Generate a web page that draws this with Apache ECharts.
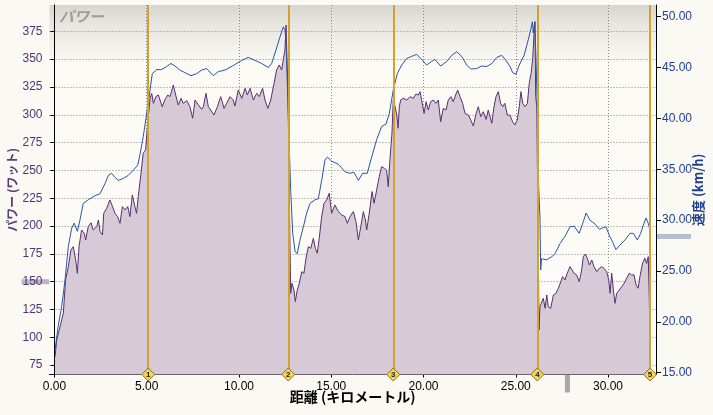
<!DOCTYPE html>
<html><head><meta charset="utf-8">
<script src="https://cdn.jsdelivr.net/npm/echarts@6/dist/echarts.min.js"></script>
<style>html,body{margin:0;padding:0;background:#fbf9f3;}#c{width:713px;height:415px;}</style>
</head><body><div id="c"></div>
<script>
// ---- tick labels / axes ----
const powerTicks = [75,100,125,150,175,200,225,250,275,300,325,350,375];
const speedTicks = [15,20,25,30,35,40,45,50];
const distTicks = [0,5,10,15,20,25,30];
const powerRange = [66.6, 398.7];
const speedRange = [14.82, 51.15];
const distRange = [-0.27, 32.6];
// ---- laps ----
const lapDist = [5.08, 12.67, 18.36, 26.17, 32.28];
const lapLabels = ['1','2','3','4','5'];
// ---- cursor markers ----
const cursorPower = 150, cursorSpeed = 28.4, cursorDist = 27.8;
// ---- speed (km/h) ----
const speedDist = [0.03,0.2,0.39,0.57,0.75,0.93,1.07,1.24,1.38,1.56,1.83,2.2,2.47,2.74,2.92,3.1,3.28,3.46,3.73,4.0,4.27,4.51,4.63,4.81,5.0,5.18,5.3,5.54,5.81,6.08,6.31,6.53,6.8,7.07,7.4,7.7,7.98,8.25,8.6,8.88,9.24,9.69,10.15,10.5,10.87,11.23,11.59,11.77,12.0,12.22,12.4,12.49,12.55,12.62,12.73,12.8,12.91,13.04,13.16,13.3,13.49,13.67,13.85,14.12,14.3,14.48,14.66,14.79,15.02,15.38,15.75,16.0,16.23,16.47,16.7,16.95,17.19,17.46,17.73,17.97,18.15,18.36,18.58,18.82,19.09,19.36,19.63,19.9,20.17,20.44,20.62,20.93,21.26,21.53,21.8,22.07,22.34,22.56,22.88,23.15,23.43,23.7,23.97,24.24,24.47,24.69,24.83,25.01,25.19,25.45,25.63,25.81,25.9,25.95,26.03,26.1,26.17,26.24,26.31,26.35,26.4,26.68,26.95,27.13,27.4,27.67,27.94,28.16,28.44,28.66,28.81,29.02,29.3,29.53,29.89,30.07,30.26,30.43,30.65,30.92,31.19,31.37,31.59,31.77,31.91,32.06,32.18,32.27];
const speedVals = [17.2,19.6,21.5,24.1,27.4,29.2,29.7,28.9,30.0,31.65,32.0,32.4,32.6,33.6,34.4,34.6,34.2,33.9,34.1,34.4,34.9,35.4,36.4,38.2,40.5,42.8,44.4,44.8,44.8,45.1,45.4,45.15,44.75,44.5,44.2,44.4,44.75,44.9,44.2,44.6,44.75,45.2,45.7,46.0,45.7,45.4,45.0,45.4,46.7,48.0,49.0,48.7,47.4,43.4,36.9,33.0,28.7,26.9,26.7,28.0,29.35,30.7,31.65,32.0,32.1,33.9,35.9,36.2,35.8,35.5,34.75,34.6,34.7,33.9,34.6,34.6,36.2,37.9,39.2,39.45,40.5,42.8,44.4,45.25,45.9,46.1,46.3,45.8,45.25,45.6,45.8,45.15,45.6,46.2,46.55,46.1,45.25,44.85,44.9,45.15,45.1,45.4,46.0,46.2,45.7,45.1,44.5,44.35,45.25,46.2,47.4,48.7,49.5,48.4,49.5,45.7,40.8,33.3,30.3,25.1,26.2,26.1,26.4,26.7,27.7,28.4,29.35,29.4,28.7,29.85,30.7,30.0,29.6,29.1,29.35,28.5,27.8,27.1,27.55,28.05,28.7,28.7,28.05,28.7,29.5,30.2,29.7,29.0];
// ---- power (W) ----
const powerDist = [0.03,0.12,0.3,0.48,0.6,0.75,0.89,1.02,1.15,1.24,1.33,1.47,1.62,1.69,1.83,1.98,2.1,2.29,2.38,2.47,2.6,2.67,2.83,3.0,3.15,3.28,3.42,3.55,3.68,3.82,3.97,4.09,4.22,4.36,4.45,4.54,4.69,4.81,4.94,5.05,5.18,5.27,5.36,5.49,5.63,5.72,5.84,5.99,6.14,6.26,6.44,6.57,6.71,6.86,6.98,7.17,7.34,7.49,7.62,7.8,7.89,7.98,8.07,8.21,8.34,8.47,8.64,8.83,9.01,9.19,9.33,9.51,9.69,9.78,9.96,10.15,10.33,10.45,10.6,10.78,10.96,11.1,11.28,11.41,11.56,11.72,11.9,12.04,12.18,12.31,12.4,12.49,12.55,12.6,12.66,12.73,12.8,12.87,12.98,13.05,13.16,13.27,13.4,13.52,13.63,13.76,13.89,14.03,14.14,14.24,14.35,14.48,14.61,14.75,14.89,15.02,15.2,15.38,15.57,15.75,15.87,16.02,16.2,16.34,16.47,16.6,16.74,16.85,16.92,17.06,17.21,17.32,17.46,17.6,17.73,17.88,18.0,18.09,18.18,18.29,18.36,18.46,18.55,18.62,18.69,18.76,18.9,19.09,19.27,19.45,19.59,19.72,19.81,19.9,20.03,20.14,20.26,20.39,20.53,20.68,20.8,20.93,21.07,21.22,21.34,21.49,21.61,21.74,21.85,21.98,22.12,22.25,22.43,22.56,22.7,22.85,22.97,23.1,23.24,23.39,23.51,23.7,23.82,23.93,24.05,24.18,24.29,24.41,24.54,24.68,24.83,24.95,25.08,25.19,25.28,25.38,25.5,25.63,25.73,25.83,25.92,25.99,26.04,26.08,26.14,26.21,26.26,26.31,26.4,26.49,26.59,26.68,26.76,26.89,27.04,27.18,27.31,27.44,27.54,27.67,27.79,27.94,28.03,28.16,28.3,28.44,28.57,28.66,28.77,28.88,28.99,29.12,29.24,29.39,29.53,29.66,29.78,29.93,30.04,30.11,30.2,30.29,30.38,30.47,30.61,30.74,30.87,31.01,31.15,31.28,31.41,31.52,31.63,31.73,31.87,32.0,32.09,32.18,32.23,32.27];
const powerVals = [82.6,97.6,109.6,121.6,151.6,163.5,178.5,181.5,169.5,157.6,181.5,196.5,193.5,187.5,199.5,203,196.5,199.5,205.5,195,192,211.5,216,223.5,217.5,211.5,208.5,202.5,217.5,214.5,217.5,208.5,228,217.5,211.5,226.5,247.5,265.5,268.5,292.4,314.8,319.3,310.3,316.3,317.8,313.3,307.3,313.9,317.8,316.3,326.8,317.8,308.8,314.8,310.3,312.7,307.3,296.9,313.3,308.8,310.3,305,307.3,319.3,307.3,304.3,299.8,307.3,316.3,305.8,310.3,316.3,313.3,307.9,322.3,314.8,323.8,317.8,323.8,313.3,319.3,316.3,323.8,313.3,305.8,313.3,328.3,340.3,344.8,340.3,349.3,358.2,380.7,382.2,316.3,223.5,139.6,148.6,142.6,132.1,142.6,148.6,159.0,157.6,171.1,181.5,180.0,189.0,180.0,175.6,189.0,208.5,220.5,223.5,229.5,211.5,219,213,210,208.5,202.5,208.5,213,204,187.5,199.5,213,205.5,196.5,211.5,231,220.5,232.4,244.4,253.4,251.9,250.4,235.4,259.4,283.4,313.3,307.3,299.8,287.9,307.3,313.3,314.8,313.3,316.3,314.8,318.7,317.8,320.8,313.3,301.3,311.8,304.3,311.8,313.3,310.3,313.3,293.8,305.8,304.3,313.3,316.3,311.8,317.8,322.3,316.3,310.3,301.3,299.8,295.3,289.9,301.3,307.3,298.3,302.8,295.9,304.3,292.4,307.3,316.3,320.8,310.3,307.3,310.3,299.8,299.8,293.8,290.9,295.3,307.3,320.8,310.3,307.3,310.3,328.3,337.3,350.8,373.3,383.7,316.3,307.3,193.5,106.6,127.6,126.1,135.1,126.1,138.1,127.6,126.1,138.1,139.6,144.1,150.0,154.5,151.6,157.6,163.5,165.0,157.6,156.1,150.0,160.5,172.5,174.9,171.1,165.0,169.5,163.5,159.0,162.0,163.5,162.0,159.0,151.6,139.6,157.6,142.6,130.6,139.6,142.6,145.5,148.6,153.1,157.6,156.1,156.1,147.1,144.1,154.5,166.5,171.1,166.5,172.5,139.6,106.6];

const zip = (a,b) => a.map((v,i)=>[v,b[i]]);
const labelFont = "'Liberation Sans Narrow','Arial Narrow',sans-serif";
const cjkFont = "'Noto Sans CJK JP',sans-serif";
const chart = echarts.init(document.getElementById('c'), null, {renderer:'canvas'});
const gridDash = [1,2];
chart.setOption({
  animation:false,
  backgroundColor:'#fbf9f3',
  title:{text:'パワー', left:54, top:4, textStyle:{color:'#9c9c9c', fontStyle:'italic', fontWeight:'bold', fontSize:15, fontFamily:cjkFont}},
  grid:{left:49.5, right:57, top:5, bottom:40.5, show:true, borderWidth:0, outerBoundsMode:'none',
    backgroundColor:new echarts.graphic.LinearGradient(0,0,0,1,[
      {offset:0,color:'#d9d5d0'},{offset:0.05,color:'#e8e5e0'},{offset:0.16,color:'#fbfaf5'},{offset:1,color:'#fdfcf8'}])},
  xAxis:{type:'value', min:distRange[0], max:distRange[1],
    name:'距離 (キロメートル)', nameLocation:'middle', nameGap:15, nameMoveOverlap:false,
    nameTextStyle:{color:'#000', fontWeight:'bold', fontSize:14, fontFamily:cjkFont, verticalAlign:'top'},
    axisLine:{show:true, onZero:false, lineStyle:{color:'#000', width:1}},
    axisTick:{show:true, length:3, customValues:distTicks, lineStyle:{color:'#000'}},
    axisLabel:{customValues:distTicks, margin:6, color:'#000', fontSize:12, fontFamily:labelFont, formatter:v=>v.toFixed(2)},
    splitLine:{show:true, lineStyle:{color:'#888', type:gridDash, width:1}}},
  yAxis:[
    {type:'value', min:powerRange[0], max:powerRange[1], position:'left',
      name:'パワー (ワット)', nameLocation:'middle', nameGap:31, nameRotate:90, nameMoveOverlap:false,
      nameTextStyle:{color:'#5b3a7c', fontWeight:'bold', fontSize:12, fontFamily:cjkFont},
      axisLine:{show:true, lineStyle:{color:'#000', width:1}},
      axisTick:{show:true, length:4, customValues:powerTicks, lineStyle:{color:'#000'}},
      axisLabel:{customValues:powerTicks, margin:7, color:'#4b3576', fontSize:12, fontFamily:labelFont},
      splitLine:{show:true, lineStyle:{color:'#888', type:gridDash, width:1}}},
    {type:'value', min:speedRange[0], max:speedRange[1], position:'right',
      name:'速度 (km/h)', nameLocation:'middle', nameGap:36, nameRotate:90, nameMoveOverlap:false,
      nameTextStyle:{color:'#1f3f8f', fontWeight:'bold', fontSize:13, fontFamily:cjkFont},
      axisLine:{show:true, lineStyle:{color:'#000', width:1}},
      axisTick:{show:true, length:5, customValues:speedTicks, lineStyle:{color:'#000'}},
      axisLabel:{customValues:speedTicks, margin:6, color:'#1f3f8f', fontSize:12, fontFamily:labelFont, formatter:v=>v.toFixed(2)},
      splitLine:{show:false}}
  ],
  series:[
    {name:'power', type:'line', yAxisIndex:0, data:zip(powerDist,powerVals), showSymbol:false, symbol:'none',
      lineStyle:{color:'#5a2f70', width:1}, areaStyle:{color:'#d5cad5', opacity:1, origin:'start'}, z:2,
      markLine:{silent:true, symbol:'none', label:{show:false}, animation:false,
        lineStyle:{color:'#d3a22e', width:2, type:'solid'},
        data:lapDist.map(d=>({xAxis:d}))}},
    {name:'speed', type:'line', yAxisIndex:1, data:zip(speedDist,speedVals), showSymbol:false, symbol:'none',
      lineStyle:{color:'#2a55a3', width:1}, z:3},
    {name:'laps', type:'scatter', yAxisIndex:0, clip:false, z:10, symbol:'diamond', symbolSize:13,
      data:lapDist.map((d,i)=>({value:[d,powerRange[0]], label:{formatter:lapLabels[i]}})),
      itemStyle:{color:'#f4d656', borderColor:'#8a6f1c', borderWidth:1, opacity:1},
      label:{show:true, position:'inside', fontSize:8, fontWeight:'bold', color:'#222', fontFamily:'sans-serif'}}
  ]
});
// cursor markers on axes
const yP = chart.convertToPixel({yAxisIndex:0}, cursorPower);
const yS = chart.convertToPixel({yAxisIndex:1}, cursorSpeed);
const xD = chart.convertToPixel({xAxisIndex:0}, cursorDist);
const yBottom = chart.convertToPixel({yAxisIndex:0}, powerRange[0]);
const xLeft = chart.convertToPixel({xAxisIndex:0}, distRange[0]);
const xRight = chart.convertToPixel({xAxisIndex:0}, distRange[1]);
chart.setOption({graphic:[
  {type:'rect', shape:{x:xLeft-28, y:yP-2.5, width:28, height:5}, style:{fill:'#c2b3c4'}, z:-1},
  {type:'rect', shape:{x:xRight, y:yS-2.5, width:35, height:5}, style:{fill:'#b3bfd0'}, z:-1},
  {type:'rect', shape:{x:xD-2.5, y:yBottom, width:5, height:18}, style:{fill:'#a9a9a9'}, z:-1}
]});
</script></body></html>
